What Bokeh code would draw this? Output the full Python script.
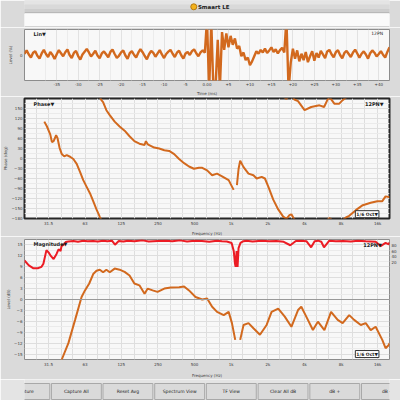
import math
from bokeh.plotting import figure
from bokeh.layouts import column
from bokeh.models import Range1d, LinearAxis, FixedTicker, Label, Span, Title
from bokeh.embed import file_html
from bokeh.resources import INLINE

NAN = float("nan")
FONT = "DejaVu Sans"
ORANGE = "#d2691e"
RED = "#ec1c24"
BG = "#dadada"
PLOT_BG = "#f8f8f8"

# ---------------- data ----------------
ir_t0_ms = -42.5
ir_dt_ms = 0.5
ir_level = [
    0.5, 1.8, 0.2, -1.0, 0.9, 1.5, -0.3, -1.4, 0.6, 2.0,
    0.4, -0.8, 1.2, 0.1, -1.6, 0.3, 1.9, 0.7, -0.5, 1.1,
    2.2, 0.0, -1.2, 0.8, 1.6, -0.4, -1.8, 0.2, 1.3, 2.4,
    1.0, -0.6, 0.5, 1.7, -0.2, -1.3, 0.6, 1.4, 0.3, -0.9,
    1.2, 2.1, 0.4, -1.1, -0.3, 1.0, 1.8, -0.2, -1.5, 0.7,
    1.5, 0.1, -1.0, 0.9, 2.3, 1.1, -0.4, -1.7, 0.3, 1.6,
    0.8, -0.7, 0.6, 1.9, 0.2, -1.2, 0.4, 1.3, 2.0, 0.5,
    -0.8, 0.9, 1.7, -0.1, -1.4, 0.6, 1.2, 0.0, 1.5, 2.2,
    0.7, -0.5, 1.0, 1.8, 0.9,
    14.0, -14.0, 13.0, -14.0, -12.0, 6.0, -13.0, 9.0, 2.0, 8.5,
    3.0, 7.5, 4.0, 6.5, 2.5, 3.5, -0.5, 1.0, -2.0, -1.0,
    -4.0, -2.5, -0.5, 1.5, 0.5, 2.0, 1.0, 2.5, 0.8, 1.8,
    3.0, 1.2, 2.2, 0.6, 1.9, 2.8, 1.0, 14.0, -14.0, -3.0,
    2.5, -1.5, 1.8, -2.5, 0.5, -2.0, 1.2, -2.8, -0.5, 1.5,
    -2.2, 0.8, -1.0, 1.6, 0.2, -1.2, 1.4, 2.0, 0.3, -0.9,
    1.1, 1.9, 0.0, -1.3, 0.8, 1.6, 0.4, -0.8, 1.0, 2.1,
    0.6, -1.1, 0.5, 1.4, 0.2, -1.4, 0.7, 1.8, 0.9, -0.6,
    0.4, 1.5, 0.1, -1.0, 1.2, 3.0,
]
time_ticks = [-35, -30, -25, -20, -15, -10, -5, 0, 5, 10, 15, 20, 25, 30, 35, 40]
time_labels = ["-35", "-30", "-25", "-20", "-15", "-10", "-5", "0.00",
               "+5", "+10", "+15", "+20", "+25", "+30", "+35", "+40"]

freq_ticks = [31.5, 63, 125, 250, 500, 1000, 2000, 4000, 8000, 16000]
freq_labels = ["31.5", "63", "125", "250", "500", "1k", "2k", "4k", "8k", "16k"]
third_octave = [20, 25, 31.5, 40, 50, 63, 80, 100, 125, 160, 200, 250, 315, 400,
                500, 630, 800, 1000, 1250, 1600, 2000, 2500, 3150, 4000, 5000,
                6300, 8000, 10000, 12500, 16000, 20000]

phase_ticks = [-180, -150, -120, -90, -60, -30, 0, 30, 60, 90, 120, 150]
mag_ticks = [-15, -12, -9, -6, -3, 0, 3, 6, 9, 12, 15]
coh_ticks = [20, 40, 60, 80]

phase_freq = [29.1, 30.6, 32.6, 33.6, 34.7, 36.4, 37.3, 38.8, 40.5, 42.4,
              44.5, 47.4, 50.4, 53.7, 57.2, 60.8, 64.7, 69, 73.4, 78.1,
              83.2, 85.7, 88.5, 94.2, 100.4, 110.2, 121, 133, 146, 160,
              176, 194, 199, 206, 233, 256, 282, 309, 340, 373,
              410, 450, 494, 543, 578, 634, 697, 765, 841, 953,
              1047, 1080, 1114, 1150, 1185, 1263, 1387, 1523, 1620, 1780,
              1893, 2018, 2216, 2434, 2674, 2845, 3009, 3124, 3304, 3542,
              4009, 4546, 5313, 5800, 6220, 6374, 6616, 7038, 7732, 8240,
              8768, 9328, 10576, 12057, 14012, 15886, 17448, 18566, 19748, 20000]
phase_unwrapped_deg = [110.6, 96, 71.7, 49.2, 52.1, 69.7, 62, 32.8, 13.2, 6.4,
                       10.2, 5.3, -1.5, -16, -40.4, -65, -84.3, -104, -128, -152.8,
                       -175, -185, -190.8, -215.1, -229.7, -249.4, -264, -276.6, -293.3, -307.9,
                       -315.5, -319.6, -307.9, -317.6, -327.2, -330.1, -335.1, -337.2, -346.8, -361.5,
                       -374, -384, -390.7, -387.8, -387.8, -395.7, -410.3, -405.4, -413.3, -425,
                       -454.2, NAN, -439.6, -390.7, -366.4, -385.8, -405.4, -410.3, -420, -415,
                       -420, -444.3, -483.5, -512.8, -534.2, -541, -530, -527.4, -543, -548,
                       -575, -565.5, -560.5, -565.5, -542, -539, -542, -555.5, -555.5, -545,
                       -537, -532, -515, -500, -493, -488, -488, -473.6, -475.6, -476]

mag_freq = [36, 40.5, 45.9, 52.1, 58.9, 62.8, 68.1, 73.4, 78.1, 83.2,
            88.5, 94.2, 100.4, 110.2, 121, 133, 146, 160, 176, 194,
            206, 226, 248, 282, 319, 373, 410, 450, 509, 578,
            634, 697, 765, 868, 953, 1014, 1079, 1130, 1185, 1263,
            1387, 1523, 1723, 1954, 2147, 2434, 2756, 3124, 3542, 3768,
            4140, 4694, 5156, 5834, 6616, 7504, 8240, 9328, 10244, 11616,
            12758, 14012, 15388, 17448, 18566, 19748, 20000]
mag_db = [-21, -16.5, -12.0, -5.6, 0.7, 2.5, 4.4, 7.0, 7.9, 8.2,
          7.5, 8.2, 7.5, 8.5, 8.2, 7.6, 6.6, 4.4, 3.9, 1.6,
          3.0, 2.5, 2.1, 3.0, 3.3, 3.4, 3.6, 2.5, 0.7, 0.0,
          0.3, -2.0, -3.4, -4.3, -3.4, -6.5, -11.1, NAN, -11.1, -7.0,
          -6.5, -7.9, -9.7, -7.0, -3.4, -2.5, -4.7, -7.5, -2.9, -2.0,
          -4.7, -8.4, -6.1, -8.4, -3.4, -5.6, -6.5, -4.3, -5.6, -7.0,
          -6.5, -8.4, -7.5, -11.1, -13.4, -12.5, -12.0]

coh_freq = [20, 21.7, 23.7, 25.7, 27.6, 28.6, 30.3, 31.7, 32.9, 34.7,
            36.6, 38.1, 39.6, 40.3, 42.0, 43.6, 45.9, 50.4, 55, 60.9,
            66, 73.4, 80, 88.5, 96, 104.6, 110.9, 119, 130, 141,
            160, 187, 210, 247, 290, 328, 380, 434, 500, 575,
            660, 762, 840, 919, 1008, 1049, 1074, 1087, 1107, 1128,
            1149, 1192, 1260, 1335, 1500, 1772, 2050, 2350, 2700, 3059,
            3400, 3764, 4150, 4538, 4850, 5173, 5500, 5790, 6400, 7258,
            8300, 9627, 11000, 12768, 14000, 15388, 16900, 18566, 19748, 20000]
coh_pct = [27, 10, 0, 0, 5, 16, 63, 54, 43, 32,
           49, 66, 60, 77, 82, 91, 93, 95, 92, 96,
           94, 95, 93, 96, 94, 96, 82, 95, 93, 96,
           94, 97, 93, 95, 96, 94, 97, 93, 96, 95,
           92, 96, 94, 93, 88, 60, 16, 5, 60, 5,
           70, 88, 94, 96, 93, 96, 94, 95, 92, 80,
           95, 96, 94, 73, 94, 96, 92, 73, 96, 94,
           95, 93, 96, 94, 93, 92, 77, 88, 83, 90]

buttons = ["Capture", "Capture All", "Reset Avg", "Spectrum View",
           "TF View", "Clear All dB", "dB +", "dB -"]

assert len(phase_freq) == len(phase_unwrapped_deg)
assert len(mag_freq) == len(mag_db)
assert len(coh_freq) == len(coh_pct)

ir_time = [ir_t0_ms + i * ir_dt_ms for i in range(len(ir_level))]


# ---------------- helpers ----------------
def style_axis(ax, size="4px"):
    ax.major_label_text_font = FONT
    ax.major_label_text_font_size = size
    ax.major_label_text_color = "#3a3a3a"
    ax.axis_line_color = None
    ax.major_tick_line_color = None
    ax.minor_tick_line_color = None
    ax.major_tick_out = 0
    ax.major_tick_in = 0
    ax.minor_tick_out = 0
    ax.minor_tick_in = 0
    ax.major_label_standoff = 2


def data_fig(h, xr, yr, top, bottom, x_type="linear"):
    p = figure(width=400, height=h, x_range=xr, y_range=yr, x_axis_type=x_type,
               output_backend="svg", toolbar_location=None)
    p.min_border_left = 21
    p.min_border_right = 11
    p.min_border_top = top
    p.min_border_bottom = bottom
    p.background_fill_color = PLOT_BG
    p.border_fill_color = BG
    p.outline_line_color = "#8c8c8c"
    for ax in p.axis:
        style_axis(ax)
    p.xgrid.grid_line_color = "#dedede"
    p.ygrid.grid_line_color = "#dedede"
    return p


def chrome_fig(h):
    p = figure(width=400, height=h, x_range=Range1d(0, 400), y_range=Range1d(h, 0),
               output_backend="svg", toolbar_location=None,
               x_axis_location=None, y_axis_location=None)
    p.min_border = 0
    p.min_border_left = 0
    p.min_border_right = 0
    p.min_border_top = 0
    p.min_border_bottom = 0
    p.grid.visible = False
    p.outline_line_color = None
    p.background_fill_color = BG
    p.border_fill_color = BG
    return p


def lab(p, x, y, text, size="5px", bold=True, align="left", bg=None, border=None):
    kw = {}
    if bg is not None:
        kw["background_fill_color"] = bg
        kw["padding"] = 1
    if border is not None:
        kw["border_line_color"] = border
    p.add_layout(Label(x=x, y=y, text=text, text_font=FONT, text_font_size=size,
                       text_font_style="bold" if bold else "normal",
                       text_color="#1e1e1e", text_align=align,
                       text_baseline="middle", **kw))


def axis_title(p, text, side, standoff=0):
    p.add_layout(Title(text=text, align="center", text_font=FONT, text_font_size="4px",
                       text_font_style="normal", text_color="#3a3a3a",
                       standoff=standoff, offset=0), side)


# ---------------- header ----------------
pA = chrome_fig(27)
pA.quad(left=0, right=400, top=0, bottom=4.5, color="#e4e4e4")
pA.quad(left=0, right=400, top=4.5, bottom=9, color="#d9d9d9")
pA.quad(left=0, right=400, top=9, bottom=12.5, color="#cdcdcd")
pA.segment(x0=0, y0=12.7, x1=400, y1=12.7, color="#8a8a8a", line_width=1)
pA.quad(left=0, right=400, top=13.2, bottom=26.2, color="#fafafa")
pA.segment(x0=0, y0=26.6, x1=400, y1=26.6, color="#9c9c9c", line_width=1)
pA.scatter(x=[185.5], y=[6.3], size=6, fill_color="#f3b21c", line_color="#b77a10")
lab(pA, 190, 6.5, "Smaart LE", size="5.5px")

# ---------------- impulse (time) ----------------
pB = data_fig(69, Range1d(-42.5, 42.5), Range1d(-10, 10), top=2, bottom=16)
pB.xaxis.ticker = FixedTicker(ticks=time_ticks,
                              minor_ticks=[t - 2.5 for t in time_ticks] + [time_ticks[-1] + 2.5])
pB.xaxis.major_label_overrides = dict(zip(time_ticks, time_labels))
pB.yaxis.ticker = FixedTicker(ticks=[0])
pB.ygrid.visible = False
pB.xgrid.grid_line_color = "#e2e2e2"
pB.xgrid.minor_grid_line_color = "#ececec"
pB.line(ir_time, ir_level, color=ORANGE, line_width=2.4)
lab(pB, -40.4, 8.3, "Lin▼")
lab(pB, 41.0, 8.3, "12PN", bold=False, size="4.5px", align="right")
axis_title(pB, "Time (ms)", "below", standoff=1)
axis_title(pB, "Level (%)", "left", standoff=8)

# ---------------- phase ----------------
pC = data_fig(140, Range1d(20, 20000), Range1d(-180, 180), top=2, bottom=15, x_type="log")
pC.xaxis.ticker = FixedTicker(ticks=freq_ticks)
pC.xaxis.major_label_overrides = dict(zip(freq_ticks, freq_labels))
pC.xgrid.ticker = FixedTicker(ticks=third_octave)
pC.yaxis.ticker = FixedTicker(ticks=phase_ticks, minor_ticks=[t + 15 for t in phase_ticks])
pC.ygrid.minor_grid_line_color = "#ebebeb"
pC.outline_line_color = "#262626"
pC.outline_line_width = 2
for wrap in (0, 360, 720):
    pC.line(phase_freq, [d + wrap for d in phase_unwrapped_deg], color=ORANGE, line_width=2)
lab(pC, 23.7, 165, "Phase▼")
lab(pC, 17900, 165, "12PN▼", align="right")
lab(pC, 13100, -167, "1/6 Oct▼", size="4.5px", align="center", bg="#ffffff", border="#333333")
axis_title(pC, "Frequency (Hz)", "below", standoff=1)
axis_title(pC, "Phase (deg)", "left", standoff=1)

# ---------------- magnitude ----------------
pD = data_fig(143, Range1d(20, 20000), Range1d(-16.5, 16.5), top=3, bottom=19, x_type="log")
pD.extra_y_ranges = {"coh": Range1d(-317, 100)}
pD.xaxis.ticker = FixedTicker(ticks=freq_ticks)
pD.xaxis.major_label_overrides = dict(zip(freq_ticks, freq_labels))
pD.xgrid.ticker = FixedTicker(ticks=third_octave)
pD.yaxis.ticker = FixedTicker(ticks=mag_ticks, minor_ticks=[t + 1.5 for t in mag_ticks])
pD.ygrid.minor_grid_line_color = "#ebebeb"
cax = LinearAxis(y_range_name="coh", ticker=FixedTicker(ticks=coh_ticks))
style_axis(cax, size="4px")
pD.add_layout(cax, "right")
pD.add_layout(Span(location=0, dimension="width", line_color="#9a9a9a", line_width=1))
pD.line(coh_freq, coh_pct, y_range_name="coh", color=RED, line_width=2)
pD.line(mag_freq, mag_db, color=ORANGE, line_width=2)
lab(pD, 23.7, 15.3, "Magnitude▼")
lab(pD, 17300, 15.1, "12PN▼", align="right")
lab(pD, 13100, -15.0, "1/6 Oct▼", size="4.5px", align="center", bg="#ffffff", border="#333333")
axis_title(pD, "Frequency (Hz)", "below", standoff=3)
axis_title(pD, "Level (dB)", "left", standoff=2)

# ---------------- buttons ----------------
pE = chrome_fig(21)
pE.background_fill_color = "#e4e4e4"
pE.border_fill_color = "#e4e4e4"
btn_left = [-27, 29.5, 86, 142.7, 199.3, 256, 312.7, 369.3]
btn_w = 54.7
pE.quad(left=btn_left, right=[b + btn_w for b in btn_left], top=[4] * 8, bottom=[20] * 8,
        fill_color="#dadada", line_color="#a8a8a8")
for b, t in zip(btn_left, buttons):
    lab(pE, b + btn_w / 2, 12, t, size="4.5px", bold=False, align="center")

layout = column(pA, pB, pC, pD, pE, spacing=0)
open("out.html", "w").write(file_html(layout, INLINE))
